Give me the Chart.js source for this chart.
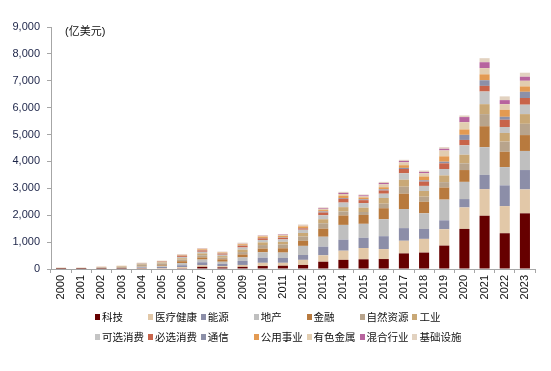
<!DOCTYPE html>
<html>
<head>
<meta charset="utf-8">
<script src="https://cdn.jsdelivr.net/npm/chart.js@4"></script>
<style>
  body { margin: 0; background: #fff; }
  #wrap { position: relative; width: 551px; height: 371px; }
  #unit { position: absolute; left: 65px; top: 22px; font: 11px "Liberation Sans", "Noto Sans CJK SC", sans-serif; color: #111; }
  #legend { position: absolute; left: 95px; top: 310px; width: 420px; font: 10.5px "Liberation Sans", "Noto Sans CJK SC", sans-serif; color: #111; }
  .item { position: absolute; white-space: nowrap; line-height: 14px; }
  .sw { display: inline-block; width: 5px; height: 6px; margin-right: 2px; vertical-align: 1px; }
</style>
</head>
<body>
<div id="wrap">
  <canvas id="myChart" width="551" height="371"></canvas>
  <div id="unit">(亿美元)</div>
  <div id="legend"></div>
</div>
<script>
var years = ["2000","2001","2002","2003","2004","2005","2006","2007","2008","2009","2010","2011",
             "2012","2013","2014","2015","2016","2017","2018","2019","2020","2021","2022","2023"];
var sectors = ["科技","医疗健康","能源","地产","金融","自然资源","工业",
               "可选消费","必选消费","通信","公用事业","有色金属","混合行业","基础设施"];
var colors = ["#660000","#E2C8A8","#8C8EA8","#BFBFBF","#B87A3E","#B8A48C","#C9A876",
              "#C4C4C4","#C8644A","#8C90A8","#E39A52","#E2CDB0","#B7649E","#E2D2C0"];

// 每个行业逐年金额（亿美元），按 years 顺序
var tech      = [2,2,3,5,10,15,30,80,60,80,110,120,150,270,340,360,370,580,610,870,1490,1980,1330,2070];
var health    = [3,3,5,5,20,20,40,60,50,70,120,110,190,240,340,420,370,470,510,610,800,990,1010,890];
var energy    = [4,5,5,10,30,40,70,110,80,150,190,180,180,320,410,380,480,470,370,330,310,530,770,720];
var realty    = [5,5,10,10,30,30,80,100,80,130,200,200,340,370,550,520,630,710,580,770,640,1030,680,710];
var finance   = [5,5,5,10,20,30,70,80,90,110,140,160,190,300,350,330,410,570,430,450,440,780,570,590];
var resources = [15,15,30,30,50,70,60,80,60,90,130,140,160,200,150,110,170,260,190,200,250,450,380,420];
var industry  = [6,5,10,20,30,40,50,70,60,90,100,100,130,150,160,160,210,260,210,250,320,370,320,360];
var discret   = [3,3,5,10,15,20,50,60,50,80,90,90,120,150,170,170,160,240,190,240,350,470,220,350];
var staples   = [2,2,5,5,10,15,40,50,40,60,60,60,50,100,140,110,120,160,160,210,200,210,270,250];
var telecom   = [0,0,0,0,5,5,5,10,10,10,15,15,15,40,30,30,40,40,50,60,190,210,110,230];
var utility   = [2,2,3,10,5,10,20,30,30,50,50,50,60,50,90,70,80,100,140,200,200,220,260,200];
var metals    = [2,2,3,5,5,10,20,30,20,30,30,40,40,50,60,40,110,110,120,220,270,230,210,210];
var mixed     = [0,0,0,0,0,0,5,10,5,10,10,15,10,30,40,40,50,50,50,60,190,220,150,150];
var infra     = [1,1,3,3,5,5,15,10,10,20,15,20,20,20,40,30,40,40,50,60,60,150,140,150];

var series = [tech,health,energy,realty,finance,resources,industry,
              discret,staples,telecom,utility,metals,mixed,infra];

var fontFam = '"Liberation Sans", "Noto Sans CJK SC", sans-serif';

var ctx = document.getElementById("myChart");
var myChart = new Chart(ctx, {
    type: 'bar',
    data: {
        labels: years,
        datasets: sectors.map(function (name, i) {
            return {
                label: name,
                data: series[i],
                backgroundColor: colors[i],
                borderWidth: 0,
                barPercentage: 0.5,
                categoryPercentage: 1.0
            };
        })
    },
    options: {
        responsive: false,
        animation: false,
        layout: { padding: { top: 27, right: 16, left: 0, bottom: 0 } },
        plugins: {
            legend: { display: false },
            tooltip: { enabled: false }
        },
        scales: {
            x: {
                stacked: true,
                afterFit: function (s) { s.height = 102; },
                border: { color: '#A6A6A6' },
                grid: { offset: true, drawOnChartArea: false, tickLength: 4, color: '#A6A6A6' },
                ticks: {
                    minRotation: 90, maxRotation: 90, padding: 2,
                    color: '#111',
                    font: { family: fontFam, size: 11 }
                }
            },
            y: {
                stacked: true,
                min: 0, max: 9000,
                afterFit: function (s) { s.width = 51; },
                border: { color: '#A6A6A6' },
                grid: { drawOnChartArea: false, tickLength: 4, color: '#A6A6A6' },
                ticks: {
                    stepSize: 1000,
                    padding: 7,
                    color: '#1C2448',
                    font: { family: fontFam, size: 11 },
                    callback: function (v) { return v.toLocaleString('en-US'); }
                }
            }
        }
    }
});

// 图例：两行七列
var legend = document.getElementById("legend");
sectors.forEach(function (name, i) {
    var d = document.createElement("div");
    d.className = "item";
    d.style.left = ((i % 7) * 52.9) + "px";
    d.style.top = (Math.floor(i / 7) * 20) + "px";
    d.innerHTML = '<span class="sw" style="background:' + colors[i] + '"></span>' + name;
    legend.appendChild(d);
});
</script>
</body>
</html>
